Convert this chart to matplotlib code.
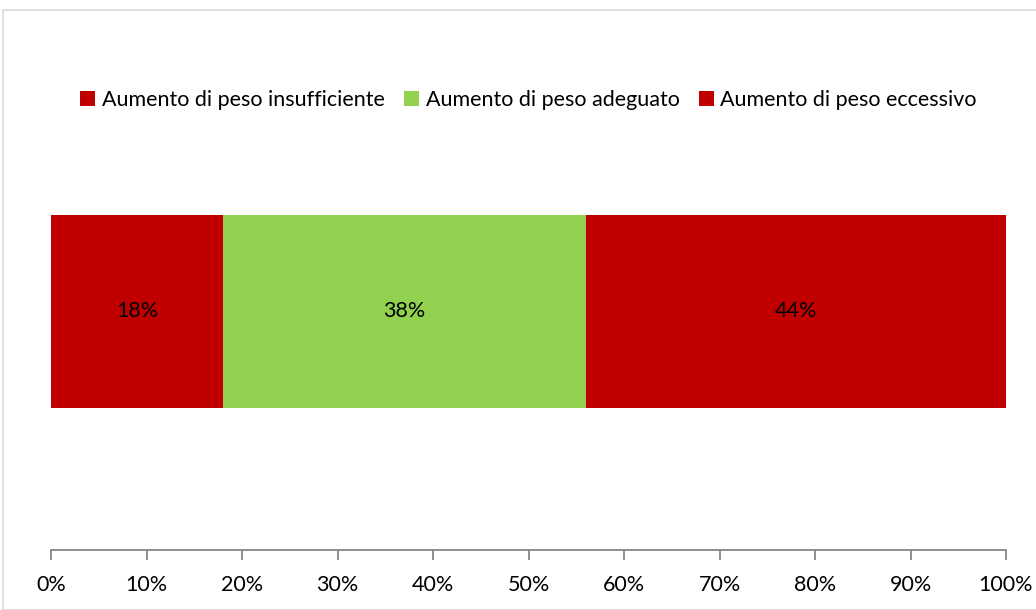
import matplotlib.pyplot as plt
from matplotlib.patches import Rectangle, Patch

categories = ['Aumento di peso insufficiente', 'Aumento di peso adeguato', 'Aumento di peso eccessivo']
values = [18, 38, 44]
colors = ['#C00000', '#92D050', '#C00000']
tick_values = list(range(0, 101, 10))
tick_labels = [f'{t}%' for t in tick_values]

plt.rcParams['font.family'] = ['Lato', 'DejaVu Sans']

W, H = 1036, 610
fig = plt.figure(figsize=(W / 100, H / 100), dpi=100)

# chart border
fig.patches.append(Rectangle((3 / W, 0), 1.1, 1 - 10 / H, transform=fig.transFigure,
                             fill=False, edgecolor='#D9D9D9', linewidth=1.2))

ax = fig.add_axes([51 / W, 60 / H, 955 / W, 540 / H])

left = 0
for cat, val, col in zip(categories, values, colors):
    ax.barh(0.4417, val, left=left, height=0.357, color=col, label=cat)
    ax.text(left + val / 2, 0.4417, f'{val}%', ha='center', va='center', fontsize=15.5, color='black')
    left += val

ax.set_xlim(0, 100)
ax.set_ylim(0, 1)
ax.set_xticks(tick_values)
ax.set_xticklabels(tick_labels, fontsize=15.5)
ax.set_yticks([])
for s in ['top', 'right', 'left']:
    ax.spines[s].set_visible(False)
ax.spines['bottom'].set_color('#868686')
ax.spines['bottom'].set_linewidth(1.3)
ax.tick_params(axis='x', direction='out', length=7, width=1.3, color='#868686', pad=11)

handles = [Patch(facecolor=c, edgecolor='none') for c in colors]
ax.legend(handles, categories, loc='center', bbox_to_anchor=(0.5, 0.833), ncol=3, frameon=False,
          fontsize=15.5, handlelength=0.7, handleheight=0.7, handletextpad=0.3, columnspacing=0.9)

fig.savefig('out.png', dpi=100)
